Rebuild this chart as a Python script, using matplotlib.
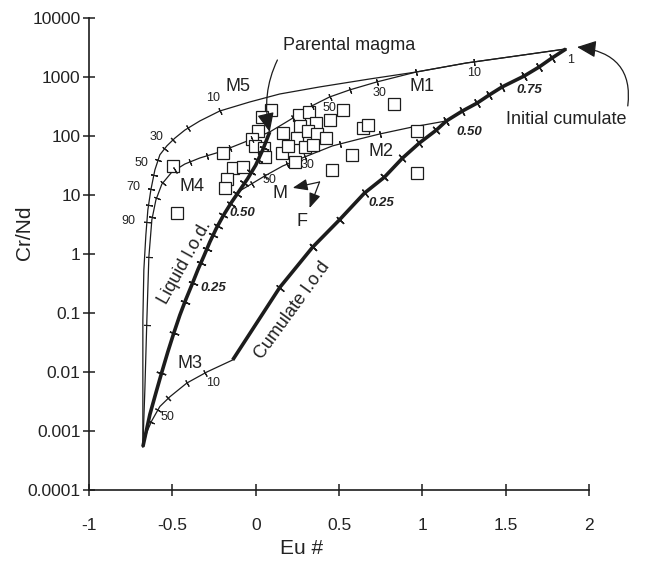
import numpy as np
import matplotlib
matplotlib.use("Agg")
import matplotlib.pyplot as plt

plt.rcParams['font.family'] = ['Liberation Sans', 'DejaVu Sans']

ink = '#1c1c1c'

# liquid line of descent, from the evolved liquid up to the parental magma
liquid_x = [-0.677, -0.635, -0.599, -0.563, -0.527, -0.491, -0.455, -0.419, -0.383, -0.347,
            -0.311, -0.275, -0.234, -0.192, -0.144, -0.096, -0.048, 0.000, 0.042, 0.084]
liquid_y = [0.00054, 0.0019, 0.0044, 0.010, 0.022, 0.046, 0.092, 0.17, 0.30, 0.54,
            0.92, 1.6, 2.8, 4.6, 7.6, 12, 19, 32, 58, 117]
liquid_tick_x = [-0.575, -0.503, -0.425, -0.377, -0.335, -0.299, -0.263, -0.234, -0.198,
                 -0.156, -0.114, -0.072, -0.030, 0.012, 0.048]
liquid_tick_y = [0.0096, 0.046, 0.153, 0.32, 0.73, 1.26, 2.1, 3.1, 4.6, 7.3, 10.8, 16, 24.5, 39, 63]

# cumulate line of descent, from the initial cumulate down to the kink
cumulate_x = [1.862, 1.778, 1.701, 1.611, 1.479, 1.401, 1.329, 1.240, 1.144, 1.084,
              0.982, 0.880, 0.772, 0.653, 0.503, 0.341, 0.144, -0.138]
cumulate_y = [2990, 2100, 1480, 1040, 680, 495, 362, 265, 180, 126,
              76, 42, 20, 10.8, 3.8, 1.3, 0.27, 0.016]

# mixing curves
m1_x = [0.084, 0.174, 0.263, 0.335, 0.443, 0.563, 0.725, 0.964, 1.263, 1.563, 1.862]
m1_y = [117, 166, 236, 322, 458, 603, 822, 1216, 1726, 2270, 2990]
m1_tick_x = [0.222, 0.335, 0.443, 0.563, 0.725, 0.964, 1.311]
m1_tick_y = [210, 335, 458, 603, 822, 1216, 1795]

m2_x = [-0.108, -0.006, 0.054, 0.162, 0.293, 0.461, 0.623, 0.743, 0.940, 1.144]
m2_y = [11.2, 16.6, 21, 31, 44, 68, 89, 108, 142, 180]
m2_tick_x = [-0.024, 0.054, 0.186, 0.293, 0.503, 0.743]
m2_tick_y = [15.3, 21, 33.5, 44, 73, 108]

m3_x = [-0.138, -0.293, -0.413, -0.515, -0.575, -0.623, -0.653, -0.677]
m3_y = [0.016, 0.010, 0.0065, 0.0038, 0.0026, 0.0015, 0.00096, 0.00054]
m3_tick_x = [-0.305, -0.413, -0.521, -0.587, -0.629]
m3_tick_y = [0.0096, 0.0065, 0.0035, 0.0023, 0.0014]

m4_x = [-0.677, -0.665, -0.653, -0.641, -0.623, -0.599, -0.563, -0.503, -0.425, -0.335,
        -0.216, -0.066, 0.084]
m4_y = [0.00054, 0.005, 0.076, 0.89, 3.8, 8.2, 15.3, 24.5, 33.5, 42.4, 53.6, 79, 117]
m4_tick_x = [-0.659, -0.641, -0.623, -0.599, -0.557, -0.485, -0.395, -0.293, -0.156, -0.018]
m4_tick_y = [0.063, 0.89, 4.2, 8.9, 16, 26.5, 36, 48, 63, 85]

m5_x = [-0.677, -0.677, -0.677, -0.671, -0.659, -0.647, -0.629, -0.605, -0.575, -0.533,
        -0.485, -0.425, -0.335, -0.216, -0.036, 0.144, 0.383, 0.683, 0.964, 1.263, 1.563, 1.862]
m5_y = [0.00054, 0.0073, 0.076, 0.54, 2.1, 5.6, 12.2, 26.5, 48, 68,
        92, 126, 180, 265, 377, 515, 678, 925, 1216, 1726, 2270, 2990]
m5_tick_x = [-0.659, -0.647, -0.629, -0.605, -0.575, -0.539, -0.491, -0.407, -0.216]
m5_tick_y = [3.5, 6.8, 12.6, 21.8, 37.7, 58, 85.5, 137, 265]

# samples
eu_num = [0.090, 0.036, 0.012, -0.024, -0.006, 0.048, -0.198, 0.054, -0.138, -0.078,
          -0.174, -0.186, 0.162, 0.156, 0.234, 0.257, 0.317, 0.263, 0.359, 0.246,
          0.311, 0.365, 0.293, 0.419, 0.443, 0.521, 0.641, 0.671, 0.575, 0.455,
          0.832, 0.970, 0.970, -0.497, -0.473, 0.192, 0.341]
cr_nd = [276, 210, 122, 89, 68, 63, 52, 44, 29, 30,
         19, 13, 112, 52, 36, 227, 255, 148, 166, 92,
         122, 108, 65, 92, 187, 276, 137, 154, 48, 27,
         348, 122, 24, 31, 5.0, 68, 70]

# melt (M) and feldspar (F) vectors
vec_origin = (0.383, 16.6)
vec_m = (0.222, 13.2)
vec_f = (0.323, 6.0)


def draw_ticks(ax, line_x, line_y, tick_x, tick_y, size, width):
    # short cross marks, snapped onto the curve and drawn normal to it
    pts = ax.transData.transform(np.column_stack([line_x, line_y]))
    inv = ax.transData.inverted()
    for tx, ty in zip(tick_x, tick_y):
        p = ax.transData.transform((tx, ty))
        best = None
        for a, b in zip(pts[:-1], pts[1:]):
            ab = b - a
            t = np.clip(np.dot(p - a, ab) / np.dot(ab, ab), 0, 1)
            q = a + t * ab
            d = np.hypot(*(p - q))
            if best is None or d < best[0]:
                best = (d, q, ab)
        _, q, ab = best
        ang = np.degrees(np.arctan2(ab[1], ab[0]))
        qx, qy = inv.transform(q)
        ax.plot(qx, qy, marker=(2, 2, ang), ms=size, mew=width, color=ink,
                zorder=5, clip_on=False)


fig = plt.figure(figsize=(6.47, 5.66), dpi=100)
ax = fig.add_axes([0.1376, 0.1343, 0.7728, 0.8339])
ax.set_yscale('log')
ax.set_xlim(-1, 2)
ax.set_ylim(1e-4, 1e4)

for sp in ['top', 'right']:
    ax.spines[sp].set_visible(False)
for sp in ['left', 'bottom']:
    ax.spines[sp].set_linewidth(1.2)
    ax.spines[sp].set_color(ink)

ax.set_xticks([-1, -0.5, 0, 0.5, 1, 1.5, 2])
ax.set_xticklabels(['-1', '-0.5', '0', '0.5', '1', '1.5', '2'])
ax.set_yticks([1e-4, 1e-3, 1e-2, 1e-1, 1, 10, 100, 1000, 10000])
ax.set_yticklabels(['0.0001', '0.001', '0.01', '0.1', '1', '10', '100', '1000', '10000'])
ax.minorticks_off()
ax.tick_params(direction='inout', length=8, width=1.1, color=ink,
               labelsize=12.5, labelcolor='#222222')
ax.tick_params(axis='x', pad=16)
ax.tick_params(axis='y', pad=2)

ax.set_xlabel('Eu #', fontsize=15, color='#222222')
ax.set_ylabel('Cr/Nd', fontsize=15, color='#222222')
ax.xaxis.set_label_coords(0.426, -0.104)
ax.yaxis.set_label_coords(-0.11, 0.545)

# thin mixing curves
for xs, ys in [(m1_x, m1_y), (m2_x, m2_y), (m3_x, m3_y), (m4_x, m4_y), (m5_x, m5_y)]:
    ax.plot(xs, ys, color=ink, lw=0.9, zorder=2)

# samples
ax.plot(eu_num, cr_nd, ls='none', marker='s', ms=8, mfc='white', mec=ink, mew=0.9, zorder=3)

# thick lines of descent
ax.plot(liquid_x, liquid_y, color=ink, lw=2.6, zorder=4, solid_capstyle='butt')
ax.plot(cumulate_x, cumulate_y, color=ink, lw=2.6, zorder=4, solid_capstyle='butt')

draw_ticks(ax, liquid_x, liquid_y, liquid_tick_x, liquid_tick_y, 7, 1.0)
draw_ticks(ax, cumulate_x, cumulate_y, cumulate_x[1:-1], cumulate_y[1:-1], 7, 1.0)
draw_ticks(ax, m1_x, m1_y, m1_tick_x, m1_tick_y, 5, 0.8)
draw_ticks(ax, m2_x, m2_y, m2_tick_x, m2_tick_y, 5, 0.8)
draw_ticks(ax, m3_x, m3_y, m3_tick_x, m3_tick_y, 5, 0.8)
draw_ticks(ax, m4_x, m4_y, m4_tick_x, m4_tick_y, 5, 0.8)
draw_ticks(ax, m5_x, m5_y, m5_tick_x, m5_tick_y, 5, 0.8)

# curve names
name_kw = dict(fontsize=13, color='#222222', ha='center', va='center', zorder=6)
ax.text(-0.108, 703, 'M5', **name_kw)
ax.text(1.0, 678, 'M1', **name_kw)
ax.text(0.754, 54, 'M2', **name_kw)
ax.text(-0.383, 13.7, 'M4', **name_kw)
ax.text(-0.395, 0.0142, 'M3', **name_kw)

# mixing proportions
pct_kw = dict(fontsize=9, color='#222222', ha='center', va='center', zorder=6)
for x, y, s in [(-0.257, 440, '10'), (-0.593, 96, '30'), (-0.683, 35, '50'),
                (-0.737, 13.7, '70'), (-0.766, 3.6, '90'),
                (0.443, 298, '50'), (0.743, 536, '30'), (1.311, 1170, '10'), (1.892, 1940, '1'),
                (0.084, 18, '50'), (0.311, 32, '30'),
                (-0.257, 0.0065, '10'), (-0.527, 0.0017, '50')]:
    ax.text(x, y, s, **pct_kw)

# remaining liquid fraction along the lines of descent
frac_kw = dict(fontsize=9.5, color='#222222', ha='center', va='center',
               style='italic', weight='bold', zorder=6)
for x, y, s in [(-0.078, 5.0, '0.50'), (-0.257, 0.27, '0.25'),
                (1.641, 603, '0.75'), (1.281, 117, '0.50'), (0.754, 7.3, '0.25')]:
    ax.text(x, y, s, **frac_kw)

ax.text(-0.425, 0.73, 'Liquid l.o.d.', fontsize=13, color='#222222', rotation=61,
        ha='center', va='center', rotation_mode='anchor', zorder=6)
ax.text(0.222, 0.112, 'Cumulate l.o.d', fontsize=13, color='#222222', rotation=54,
        ha='center', va='center', rotation_mode='anchor', zorder=6)

# melt / feldspar vectors
for tip, lab, pos in [(vec_m, 'M', (0.144, 10.8)), (vec_f, 'F', (0.275, 3.6))]:
    ax.annotate('', xy=tip, xytext=vec_origin,
                arrowprops=dict(arrowstyle='-|>,head_length=0.9,head_width=0.35',
                                color=ink, lw=0.9, shrinkA=0, shrinkB=0), zorder=6)
    ax.text(pos[0], pos[1], lab, fontsize=13, color='#222222', ha='center', va='center')

# call-outs
ax.annotate('Parental magma', xy=(0.084, 117), xytext=(0.162, 3480),
            fontsize=13, color='#222222', ha='left', va='center',
            arrowprops=dict(arrowstyle='-|>,head_length=0.9,head_width=0.4',
                            connectionstyle='arc3,rad=0.2', color=ink, lw=0.9,
                            shrinkA=4, shrinkB=0,
                            relpos=(0.0, 0.2)), zorder=7)
ax.annotate('Initial cumulate', xy=(1.928, 3220), xytext=(1.862, 187),
            fontsize=13, color='#222222', ha='center', va='center',
            annotation_clip=False,
            arrowprops=dict(arrowstyle='-|>,head_length=0.9,head_width=0.4',
                            connectionstyle='arc3,rad=0.55', color=ink, lw=0.9,
                            shrinkA=2, shrinkB=0, relpos=(1.0, 0.8)), zorder=7)

fig.savefig('out.png', dpi=100)
